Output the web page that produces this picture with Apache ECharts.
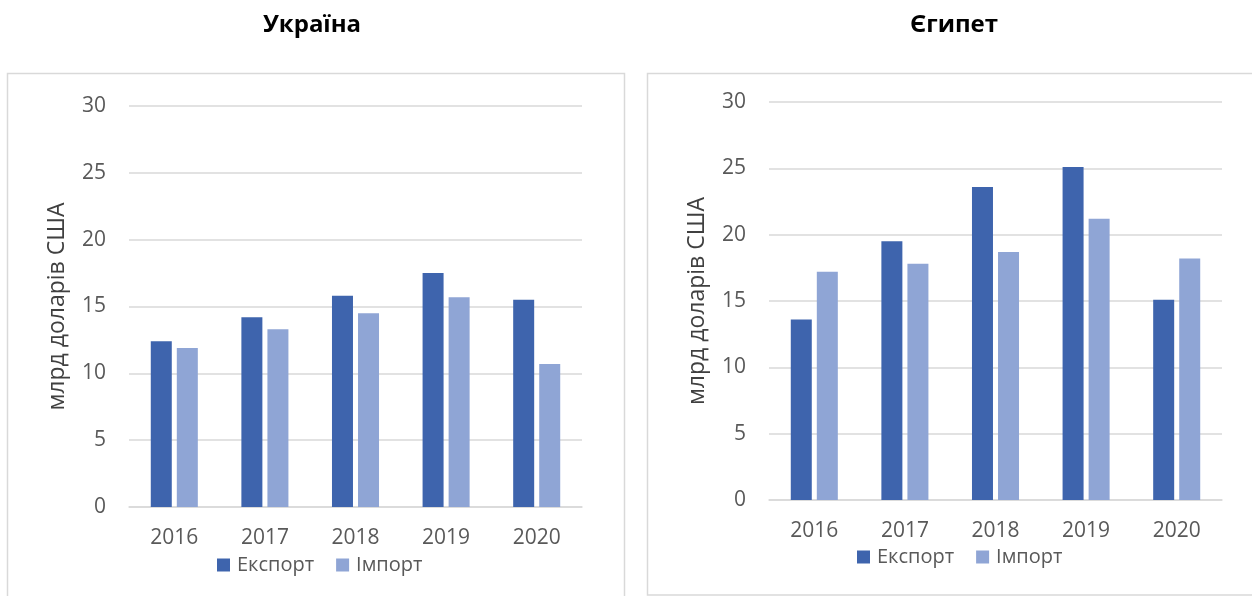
<!DOCTYPE html>
<html>
<head>
<meta charset="utf-8">
<script src="https://cdn.jsdelivr.net/npm/echarts@6/dist/echarts.min.js"></script>
<style>
html,body{margin:0;padding:0;background:#fff;}
#chart{width:1252px;height:596px;}
</style>
</head>
<body>
<div id="chart"></div>
<script>
const years = ['2016', '2017', '2018', '2019', '2020'];
const ukraineExport = [12.4, 14.2, 15.8, 17.5, 15.5];
const ukraineImport = [11.9, 13.3, 14.5, 15.7, 10.7];
const egyptExport = [13.6, 19.5, 23.6, 25.1, 15.1];
const egyptImport = [17.2, 17.8, 18.7, 21.2, 18.2];
const yTicks = [0, 5, 10, 15, 20, 25, 30];

const FONT = '"Open Sans", sans-serif';
const C_EXP = '#3E64AD';
const C_IMP = '#8FA5D5';
const GRIDC = '#D9D9D9';
const TXT = '#595959';

function xAx(gi) {
  return {
    type: 'category', gridIndex: gi, data: years,
    axisLine: {lineStyle: {color: GRIDC, width: 1.5}},
    axisTick: {show: false},
    axisLabel: {color: TXT, fontFamily: FONT, fontSize: 21, margin: 21}
  };
}
function yAx(gi) {
  return {
    type: 'value', gridIndex: gi,
    min: yTicks[0], max: yTicks[yTicks.length - 1], interval: yTicks[1] - yTicks[0],
    axisLine: {show: false}, axisTick: {show: false},
    splitLine: {lineStyle: {color: GRIDC, width: 1.5}},
    axisLabel: {color: TXT, fontFamily: FONT, fontSize: 21, margin: 23},
    name: 'млрд доларів США', nameLocation: 'middle', nameGap: 60,
    nameTextStyle: {color: '#404040', fontFamily: FONT, fontSize: 23}
  };
}
function bar(name, data, gi, color) {
  return {
    type: 'bar', name: name, data: data, xAxisIndex: gi, yAxisIndex: gi,
    barWidth: 21, barGap: '24%', itemStyle: {color: color}
  };
}
const legendBase = {
  data: ['Експорт', 'Імпорт'], orient: 'horizontal', padding: 0,
  itemWidth: 13, itemHeight: 13, itemGap: 22, icon: 'rect',
  textStyle: {color: TXT, fontFamily: FONT, fontSize: 20, padding: [0,0,0,2]}
};

const chart = echarts.init(document.getElementById('chart'));
chart.setOption({
  animation: false,
  backgroundColor: '#fff',
  graphic: [
    {type: 'rect', z: 0, shape: {x: 7.5, y: 73.5, width: 617, height: 560}, style: {fill: 'none', stroke: GRIDC, lineWidth: 1.5}},
    {type: 'rect', z: 0, shape: {x: 647.5, y: 73.5, width: 640, height: 521.5}, style: {fill: 'none', stroke: GRIDC, lineWidth: 1.5}},
    {type: 'text', x: 312, y: 25, style: {text: 'Україна', align: 'center', verticalAlign: 'middle', fill: '#000', font: 'bold 24px "Open Sans", sans-serif'}},
    {type: 'text', x: 954, y: 25, style: {text: 'Єгипет', align: 'center', verticalAlign: 'middle', fill: '#000', font: 'bold 24px "Open Sans", sans-serif'}}
  ],
  legend: [
    Object.assign({}, legendBase, {left: 217, top: 555}),
    Object.assign({}, legendBase, {left: 857, top: 547})
  ],
  grid: [
    {left: 129, right: 1252 - 582, top: 106, bottom: 596 - 507},
    {left: 769, right: 1252 - 1222, top: 102, bottom: 596 - 500}
  ],
  xAxis: [xAx(0), xAx(1)],
  yAxis: [yAx(0), yAx(1)],
  series: [
    bar('Експорт', ukraineExport, 0, C_EXP),
    bar('Імпорт', ukraineImport, 0, C_IMP),
    bar('Експорт', egyptExport, 1, C_EXP),
    bar('Імпорт', egyptImport, 1, C_IMP)
  ]
});
</script>
</body>
</html>
